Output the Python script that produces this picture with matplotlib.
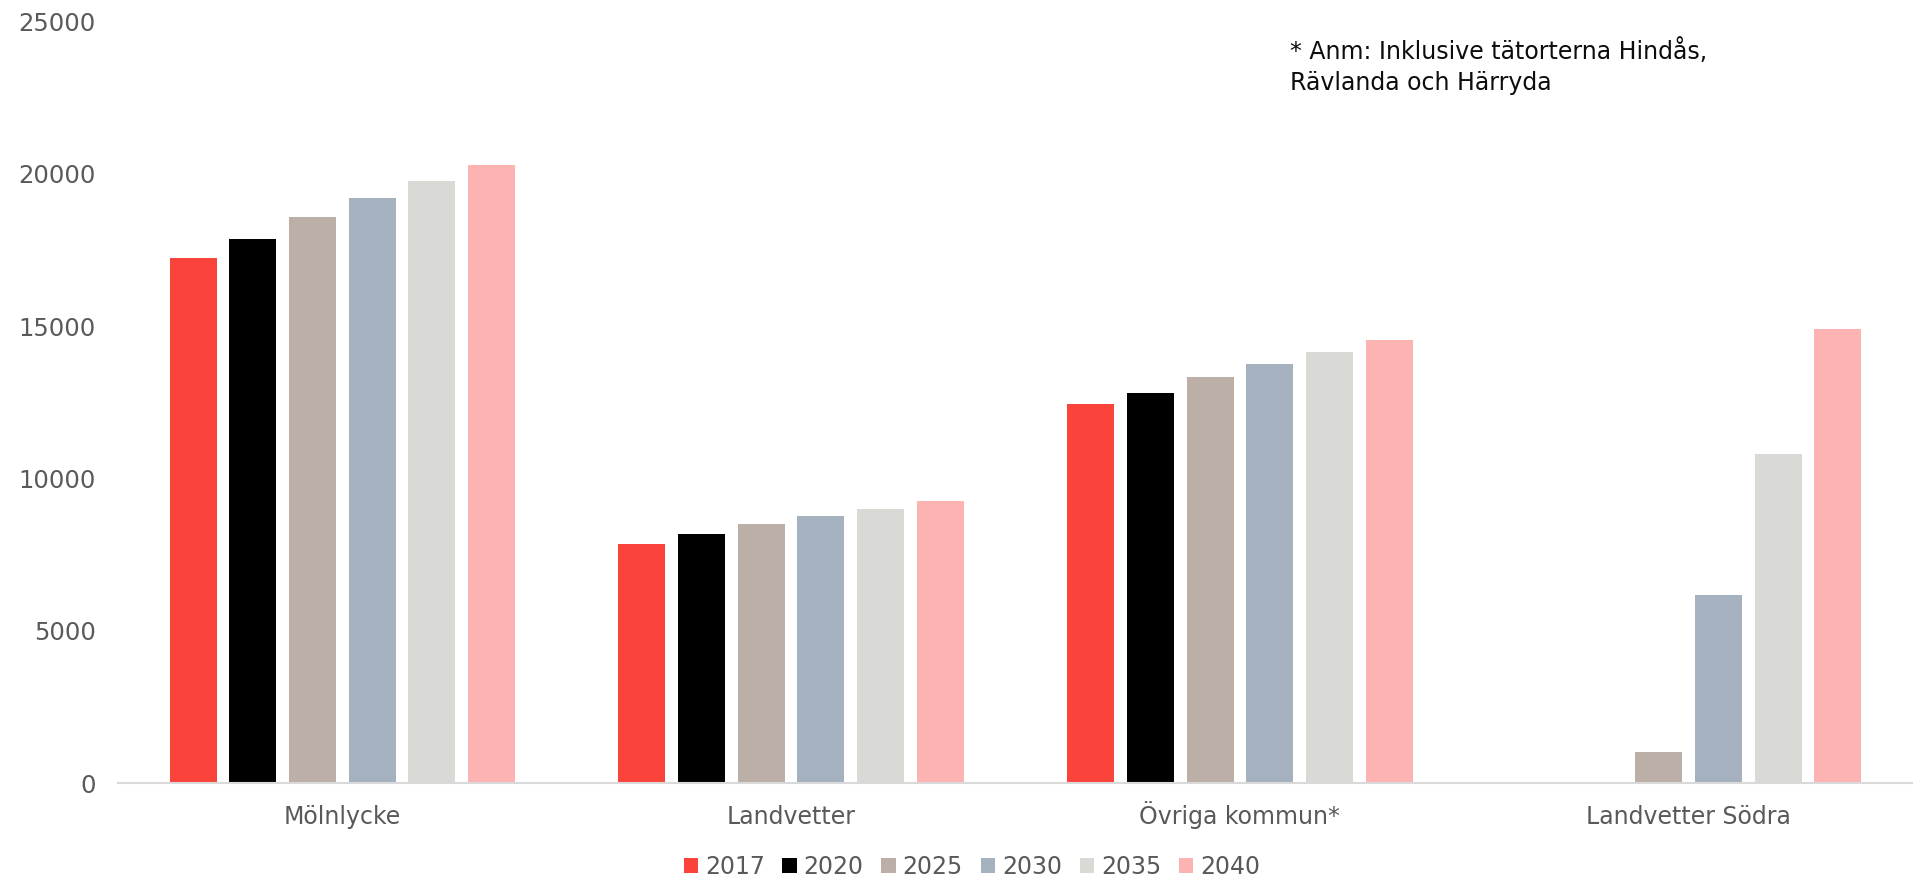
import numpy as np
import matplotlib
matplotlib.use("Agg")
import matplotlib.pyplot as plt
from matplotlib.patches import Patch

categories = ["Mölnlycke", "Landvetter", "Övriga kommun*", "Landvetter Södra"]
years = ["2017", "2020", "2025", "2030", "2035", "2040"]
v2017 = [17220, 7860, 12440, np.nan]
v2020 = [17840, 8180, 12820, np.nan]
v2025 = [18570, 8510, 13320, 1030]
v2030 = [19210, 8770, 13770, 6180]
v2035 = [19750, 9010, 14160, 10790]
v2040 = [20300, 9260, 14540, 14890]
series = [v2017, v2020, v2025, v2030, v2035, v2040]
colors = ["#FA433A", "#000000", "#BBAFA7", "#A5B1BE", "#D9D9D5", "#FDB3B2"]
yticks = [0, 5000, 10000, 15000, 20000, 25000]
note = "* Anm: Inklusive tätorterna Hindås,\nRävlanda och Härryda"

plt.rcParams['font.family'] = ['DejaVu Sans']
fig = plt.figure(figsize=(19.13, 8.81), dpi=100)
ax = fig.add_axes([0.0617, 0.1109, 0.9383, 0.865])

x = np.arange(len(categories))
step = 0.133
width = 0.1047
for i, (vals, c) in enumerate(zip(series, colors)):
    ax.bar(x + (i - 2.5) * step, vals, width=width, color=c, linewidth=0)

ax.set_xlim(-0.5, 3.5)
ax.set_ylim(0, 25000)
ax.set_yticks(yticks)
ax.set_yticklabels([str(t) for t in yticks])
ax.set_xticks(x)
ax.set_xticklabels(categories)
for s in ["top", "right", "left"]:
    ax.spines[s].set_visible(False)
ax.spines["bottom"].set_color("#D9D9D9")
ax.spines["bottom"].set_linewidth(1.5)
ax.tick_params(axis="y", length=0, pad=16, labelsize=17.5, labelcolor="#595959")
ax.tick_params(axis="x", length=0, pad=29, labelsize=17, labelcolor="#595959")
for t in ax.get_xticklabels():
    t.set_verticalalignment("baseline")

fig.text(1290 / 1913, 1 - 38 / 881, note, fontsize=17, color="#0D0D0D",
         va="top", ha="left", linespacing=1.35)

handles = [Patch(facecolor=c, edgecolor="none") for c in colors]
leg = fig.legend(handles, years, loc="center", bbox_to_anchor=(0.508, 0.016),
                 ncol=6, frameon=False, fontsize=17, handlelength=0.6,
                 handleheight=0.6, handletextpad=0.3, columnspacing=0.75)
for t in leg.get_texts():
    t.set_color("#595959")

fig.savefig("out.png", dpi=100)
